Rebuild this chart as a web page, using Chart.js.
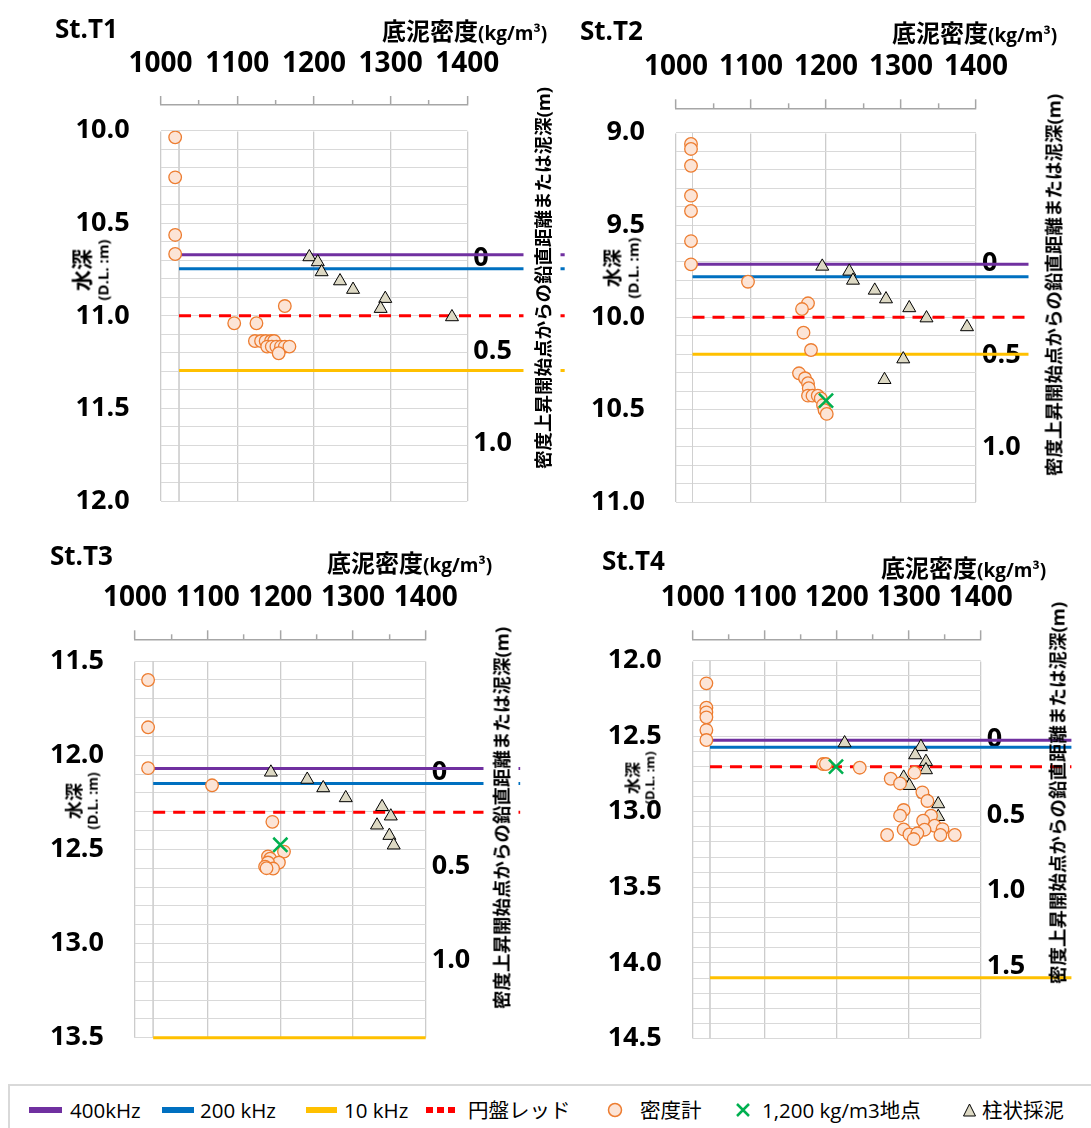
<!DOCTYPE html>
<html lang="ja">
<head>
<meta charset="UTF-8">
<title>底泥密度と水深 St.T1〜St.T4</title>
<script src="https://cdn.jsdelivr.net/npm/chart.js"></script>
<style>
  body { margin: 0; background: #fff; }
  #page {
    position: relative; width: 1091px; height: 1128px; overflow: hidden;
    font-family: "Open Sans", "Noto Sans CJK JP", sans-serif; color: #000;
  }
  #page canvas { position: absolute; }
  .txt { position: absolute; white-space: nowrap; font-weight: bold; line-height: 1; transform: translateY(-50%); }
  .station { font-size: 26px; }
  .xtitle { font-size: 24px; }
  .xtitle span { font-size: 19px; }
  .rot {
    position: absolute; white-space: nowrap; font-weight: bold; text-align: center;
    transform: translate(-50%, -50%) rotate(-90deg);
  }
  .legend {
    position: absolute; left: 8px; top: 1084px; width: 1100px; height: 60px;
    border: 2px solid #d9d9d9; box-sizing: border-box;
  }
  .sym { position: absolute; transform: translateY(-50%); line-height: 0; }
  .ltxt { position: absolute; transform: translateY(-50%); font-size: 20.5px; white-space: nowrap; line-height: 1.2; }
</style>
</head>
<body>
<div id="page"><div class="legend"></div></div>

<script>
  // ---- data ----
  const stations = ['St.T1', 'St.T2', 'St.T3', 'St.T4'];
  const densityTicks = [1000, 1100, 1200, 1300, 1400];
  const depthRange = [[10.0, 12.0], [9.0, 11.0], [11.5, 13.5], [12.0, 14.5]];
  const offsetTicks = [[0, 0.5, 1.0], [0, 0.5, 1.0], [0, 0.5, 1.0], [0, 0.5, 1.0, 1.5]];
  const offsetZero = [10.689, 9.706, 12.089, 12.522];

  // echo sounder / disk levels (D.L. m)
  const level400k = [10.670, 9.712, 12.071, 12.527];
  const level200k = [10.746, 9.780, 12.151, 12.573];
  const level10k = [11.295, 10.200, 13.500, 14.099];
  const levelDisk = [11.000, 10.000, 12.303, 12.703];
  const levelFrom = [1024, 1022, 1025, 1024];
  const levelTo = [1527, 1470, 1530, 1526];
  const level10kTo = [1527, 1470, 1400, 1526];

  // 密度計 [density, depth]
  const meterT1 = [
    [1019, 10.036], [1019, 10.252], [1019, 10.563], [1019, 10.666],
    [1162, 10.947], [1096, 11.040], [1125, 11.040],
    [1123, 11.136], [1131, 11.136], [1137, 11.136], [1144, 11.136], [1148, 11.136],
    [1139, 11.166], [1145, 11.166], [1151, 11.166], [1157, 11.166], [1162, 11.166], [1168, 11.166],
    [1154, 11.202]
  ];
  const meterT2 = [
    [1020, 9.061], [1020, 9.088], [1020, 9.179], [1020, 9.341], [1020, 9.424], [1020, 9.587], [1020, 9.713],
    [1096, 9.807], [1176, 9.924], [1168, 9.955], [1170, 10.083], [1180, 10.177],
    [1164, 10.303], [1172, 10.330], [1176, 10.357], [1177, 10.384], [1176, 10.424], [1182, 10.424],
    [1189, 10.424], [1193, 10.439], [1196, 10.475], [1198, 10.502], [1201, 10.523]
  ];
  const meterT3 = [
    [1018, 11.601], [1018, 11.852], [1018, 12.069], [1106, 12.160], [1189, 12.354],
    [1205, 12.512], [1183, 12.538], [1186, 12.550], [1198, 12.570], [1183, 12.570],
    [1179, 12.592], [1190, 12.602], [1181, 12.600]
  ];
  const meterT4 = [
    [1019, 12.151], [1019, 12.312], [1019, 12.343], [1019, 12.376], [1019, 12.460], [1019, 12.526],
    [1181, 12.685], [1185, 12.685], [1232, 12.709], [1308, 12.742], [1275, 12.782], [1288, 12.813],
    [1319, 12.872], [1326, 12.929], [1293, 12.989], [1288, 13.026], [1331, 13.026], [1320, 13.060],
    [1336, 13.093], [1293, 13.117], [1322, 13.119], [1347, 13.115], [1301, 13.150], [1312, 13.143],
    [1270, 13.154], [1344, 13.154], [1364, 13.154], [1307, 13.181]
  ];

  // 柱状採泥 [density, depth]
  const coreT1 = [
    [1194, 10.682], [1205, 10.709], [1210, 10.763], [1234, 10.812],
    [1251, 10.858], [1293, 10.907], [1287, 10.961], [1380, 11.006]
  ];
  const coreT2 = [
    [1195, 9.724], [1231, 9.751], [1236, 9.800], [1265, 9.854], [1280, 9.901],
    [1311, 9.949], [1334, 10.004], [1388, 10.052], [1303, 10.226], [1278, 10.338]
  ];
  const coreT3 = [
    [1187, 12.091], [1237, 12.129], [1259, 12.174], [1290, 12.227], [1340, 12.274],
    [1352, 12.324], [1333, 12.372], [1350, 12.427], [1356, 12.478]
  ];
  const coreT4 = [
    [1211, 12.546], [1317, 12.570], [1309, 12.625], [1324, 12.669], [1324, 12.724],
    [1293, 12.773], [1301, 12.828], [1322, 12.883], [1341, 12.949], [1341, 13.033]
  ];

  // 1,200 kg/m3地点
  const markT1 = [];
  const markT2 = [[1200, 10.451]];
  const markT3 = [[1200, 12.476]];
  const markT4 = [[1199, 12.702]];

  const meterSets = [meterT1, meterT2, meterT3, meterT4];
  const coreSets = [coreT1, coreT2, coreT3, coreT4];
  const markSets = [markT1, markT2, markT3, markT4];

  const legendLabels = ['400kHz', '200 kHz', '10 kHz', '円盤レッド', '密度計', '1,200 kg/m3地点', '柱状採泥'];

  // ---- layout (page pixels) ----
  const panelBox = [
    { x: 0,   y: 0,   w: 580, h: 522, area: [160.6, 130.7, 467.3, 501.0], axisY: 105 },
    { x: 560, y: 0,   w: 531, h: 522, area: [676.0, 132.7, 976.0, 502.0], axisY: 108.3 },
    { x: 0,   y: 530, w: 545, h: 525, area: [135.0, 661.0, 425.7, 1037.7], axisY: 639.3 },
    { x: 560, y: 530, w: 531, h: 525, area: [692.7, 660.5, 980.7, 1038.5], axisY: 639.3 }
  ];
  const stationPos = [[55, 28], [580, 30], [50, 555], [602, 560]];
  const xTitlePos = [[382, 31], [892, 33], [327, 563], [881, 568]];
  const yTitlePos = [[91, 270], [622, 268], [83, 801], [641, 778]];
  const yTitleSize = [[21, 15], [19, 15], [18, 14], [16, 13]];
  const rTitlePos = [[542, 278], [1053, 285], [501, 818], [1056.5, 793]];
  const rTitleBg = ['#fff', '#fff', '#fff', 'transparent'];

  const FONT = '"Open Sans", "Noto Sans CJK JP", sans-serif';
  Chart.defaults.font.family = FONT;
  Chart.defaults.color = '#000';

  const page = document.getElementById('page');
  const toXY = arr => arr.map(([x, y]) => ({ x, y }));
  const isHalf = v => Math.abs(v * 2 - Math.round(v * 2)) < 1e-6;

  // fixed axis sizes, no label overhang padding
  const fixSize = (prop, size) => ax => {
    ax[prop] = size;
    ax.paddingTop = 0; ax.paddingBottom = 0; ax.paddingLeft = 0; ax.paddingRight = 0;
  };

  function addDiv(cls, html, style) {
    const d = document.createElement('div');
    d.className = cls;
    d.innerHTML = html;
    Object.assign(d.style, style);
    page.appendChild(d);
    return d;
  }

  function makePanel(i) {
    const box = panelBox[i];
    const [aL, aT, aR, aB] = box.area;
    const canvas = document.createElement('canvas');
    canvas.width = box.w;
    canvas.height = box.h;
    canvas.style.left = box.x + 'px';
    canvas.style.top = box.y + 'px';
    page.appendChild(canvas);

    const leftW = aL - box.x;
    const rightW = box.x + box.w - aR;
    const outerH = box.axisY - box.y;
    const gapH = aT - box.axisY;
    const [dMin, dMax] = depthRange[i];

    const level = (label, value, to, color, dash, order) => ({
      label,
      data: [{ x: levelFrom[i], y: value }, { x: to, y: value }],
      showLine: true, borderColor: color, borderWidth: 3, borderDash: dash,
      pointRadius: 0, clip: false, order
    });

    const bold = size => ({ family: FONT, size, weight: 'bold' });

    new Chart(canvas, {
      type: 'scatter',
      data: {
        datasets: [
          { label: '1,200 kg/m3地点', data: toXY(markSets[i]), pointStyle: 'crossRot', pointRadius: 10,
            borderColor: '#00B050', backgroundColor: '#00B050', borderWidth: 2.5, order: 1 },
          { label: '密度計', data: toXY(meterSets[i]), pointStyle: 'circle', pointRadius: 6.3,
            backgroundColor: '#FCE4D6', borderColor: '#ED7D31', borderWidth: 1.3, order: 2 },
          { label: '柱状採泥', data: toXY(coreSets[i]), pointStyle: 'triangle', pointRadius: 7.5,
            backgroundColor: '#DDD9C4', borderColor: '#000', borderWidth: 1, order: 3 },
          level('円盤レッド', levelDisk[i], levelTo[i], '#FF0000', [12, 8], 4),
          level('10 kHz', level10k[i], level10kTo[i], '#FFC000', [], 5),
          level('200 kHz', level200k[i], levelTo[i], '#0070C0', [], 6),
          level('400kHz', level400k[i], levelTo[i], '#7030A0', [], 7),
          { label: 'frame', data: [{ x: levelFrom[i], y: dMin }, { x: levelFrom[i], y: dMax }],
            showLine: true, borderColor: '#d0d0d0', borderWidth: 1, pointRadius: 0, order: 9 }
        ]
      },
      options: {
        responsive: false,
        animation: false,
        events: [],
        layout: { autoPadding: false, padding: { top: 0, left: 0, right: 0, bottom: box.y + box.h - aB } },
        plugins: { legend: { display: false }, tooltip: { enabled: false } },
        scales: {
          x: {
            type: 'linear', position: 'top', weight: 2, min: 1000, max: 1400,
            ticks: {
              stepSize: 50, autoSkip: false, maxRotation: 0, padding: 15, color: '#000', font: bold(28),
              callback: v => densityTicks.includes(v) ? String(v) : ''
            },
            grid: {
              drawOnChartArea: true, lineWidth: 1.3,
              color: ctx => (ctx.tick && ctx.tick.value % 100 === 0) ? '#cccccc' : 'rgba(0,0,0,0)',
              tickLength: 9, tickWidth: 1.5, tickColor: '#a6a6a6',
              tickBorderDash: ctx => (ctx.tick && ctx.tick.value % 100 !== 0) ? [5, 40] : [],
              tickBorderDashOffset: ctx => (ctx.tick && ctx.tick.value % 100 !== 0) ? 41 : 0
            },
            border: { display: true, color: '#a6a6a6', width: 1.5 },
            afterFit: fixSize('height', outerH)
          },
          xg: {
            type: 'linear', position: 'top', weight: 1, min: 1000, max: 1400, display: true,
            ticks: { display: false }, grid: { display: false }, border: { display: false },
            afterFit: fixSize('height', gapH)
          },
          y: {
            type: 'linear', position: 'left', reverse: true, min: dMin, max: dMax,
            ticks: {
              stepSize: 0.1, autoSkip: false, padding: 31, color: '#000', font: bold(27),
              callback: v => isHalf(v) ? v.toFixed(1) : ''
            },
            grid: { color: '#d9d9d9', lineWidth: 1, drawTicks: false },
            border: { display: false },
            afterFit: fixSize('width', leftW)
          },
          y2: {
            type: 'linear', position: 'right', reverse: true,
            min: dMin - offsetZero[i], max: dMax - offsetZero[i],
            afterBuildTicks: ax => { ax.ticks = offsetTicks[i].map(v => ({ value: v })); },
            ticks: {
              padding: 6, color: '#000', font: bold(27),
              callback: v => v === 0 ? '0' : v.toFixed(1)
            },
            grid: { drawOnChartArea: false, drawTicks: false },
            border: { display: false },
            afterFit: fixSize('width', rightW)
          }
        }
      }
    });

    // texts around the plot
    addDiv('txt station', stations[i], { left: stationPos[i][0] + 'px', top: stationPos[i][1] + 'px' });
    addDiv('txt xtitle', '底泥密度<span>(kg/m³)</span>', { left: xTitlePos[i][0] + 'px', top: xTitlePos[i][1] + 'px' });
    addDiv('rot',
      `<div style="font-size:${yTitleSize[i][0]}px;line-height:1.1">水深</div>` +
      `<div style="font-size:${yTitleSize[i][1]}px;line-height:1.2">(D.L. :m)</div>`,
      { left: yTitlePos[i][0] + 'px', top: yTitlePos[i][1] + 'px' });
    addDiv('rot', '密度上昇開始点からの鉛直距離または泥深(m)', {
      left: rTitlePos[i][0] + 'px', top: rTitlePos[i][1] + 'px',
      fontSize: '18.5px', lineHeight: (i === 2 ? 35 : 37) + 'px', background: rTitleBg[i]
    });
  }

  stations.forEach((_, i) => makePanel(i));

  // ---- legend ----
  const legendY = 1110;
  const symbols = [
    '<span style="display:block;width:33px;height:6px;background:#7030A0"></span>',
    '<span style="display:block;width:32px;height:6px;background:#0070C0"></span>',
    '<span style="display:block;width:31px;height:6px;background:#FFC000"></span>',
    '<span style="display:block;width:29px;height:6px;background:repeating-linear-gradient(90deg,#FF0000 0 7px,transparent 7px 11px)"></span>',
    '<svg width="16" height="16"><circle cx="8" cy="8" r="6.5" fill="#FCE4D6" stroke="#ED7D31" stroke-width="1.5"/></svg>',
    '<svg width="16" height="16"><path d="M2 2L14 14M14 2L2 14" stroke="#00B050" stroke-width="2.5"/></svg>',
    '<svg width="15" height="15"><polygon points="7.5,1.5 13.5,13.5 1.5,13.5" fill="#DDD9C4" stroke="#000" stroke-width="1"/></svg>'
  ];
  const symLeft = [29, 162, 306, 426, 607, 735, 962];
  const textLeft = [70, 200, 344, 468, 640, 762, 982];
  legendLabels.forEach((label, k) => {
    addDiv('sym', symbols[k], { left: symLeft[k] + 'px', top: legendY + 'px' });
    addDiv('ltxt', label, { left: textLeft[k] + 'px', top: legendY + 'px' });
  });
</script>
</body>
</html>
